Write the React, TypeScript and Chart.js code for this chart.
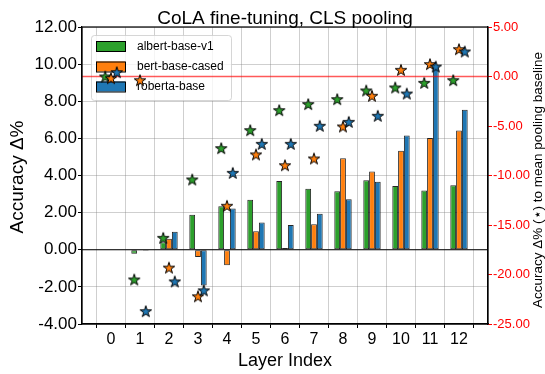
import React, { useEffect, useRef } from "react";
import { Chart, registerables } from "chart.js";
Chart.register(...registerables);

const LAYERS = [0, 1, 2, 3, 4, 5, 6, 7, 8, 9, 10, 11, 12];
const X_LABELS = ["0", "1", "2", "3", "4", "5", "6", "7", "8", "9", "10", "11", "12"];
const SERIES = ["albert-base-v1", "bert-base-cased", "roberta-base"];

// Bars: accuracy delta % (left axis)
const ALBERT_BARS = [0.0, -0.22, 0.4, 1.88, 2.35, 2.69, 3.71, 3.28, 3.15, 3.75, 3.44, 3.19, 3.48];
const BERT_BARS = [0.0, -0.02, 0.59, -0.39, -0.84, 1.0, 0.09, 1.38, 4.93, 4.21, 5.34, 6.02, 6.43];
const ROBERTA_BARS = [0.0, -0.05, 0.97, -1.92, 2.22, 1.47, 1.33, 1.94, 2.72, 3.66, 6.16, 9.85, 7.54];

// Stars: accuracy delta % to mean pooling baseline (right axis)
const ALBERT_STARS = [0.0, -20.5, -16.3, -10.4, -7.24, -5.42, -3.4, -2.79, -2.29, -1.41, -1.11, -0.64, -0.37];
const BERT_STARS = [-0.17, -0.37, -19.3, -22.2, -13.06, -7.87, -8.96, -8.28, -5.05, -1.95, 0.67, 1.25, 2.76];
const ROBERTA_STARS = [0.44, -23.7, -20.7, -21.6, -9.73, -6.8, -6.8, -4.98, -4.58, -3.97, -1.72, 1.01, 2.53];

const COLORS = ["#2ca02c", "#ff7f0e", "#1f77b4"];
const OFFSETS = [-0.2, 0, 0.2];
const FONT = '"Liberation Sans", Arial, sans-serif';

function makeStar(color: string) {
  const size = 16;
  const c = document.createElement("canvas");
  c.width = size;
  c.height = size;
  const g = c.getContext("2d")!;
  const R = 6.0;
  const r = R * 0.381966;
  g.beginPath();
  for (let k = 0; k < 10; k++) {
    const ang = -Math.PI / 2 + (k * Math.PI) / 5;
    const rad = k % 2 === 0 ? R : r;
    const px = size / 2 + rad * Math.cos(ang);
    const py = size / 2 + 0.6 + rad * Math.sin(ang);
    if (k === 0) g.moveTo(px, py);
    else g.lineTo(px, py);
  }
  g.closePath();
  g.fillStyle = color;
  g.fill();
  g.lineWidth = 1;
  g.strokeStyle = "#000";
  g.stroke();
  return c;
}

function drawLegend(ctx: CanvasRenderingContext2D) {
  ctx.save();
  const x = 91, y = 35, w = 140, h = 65;
  ctx.fillStyle = "rgba(255,255,255,0.8)";
  ctx.strokeStyle = "rgba(204,204,204,0.8)";
  ctx.lineWidth = 1;
  ctx.beginPath();
  ctx.roundRect(x + 0.5, y + 0.5, w, h, 3);
  ctx.fill();
  ctx.stroke();
  const rows = [46, 66.5, 86.5];
  ctx.font = `12px ${FONT}`;
  ctx.textBaseline = "middle";
  for (let i = 0; i < 3; i++) {
    ctx.fillStyle = COLORS[i];
    ctx.fillRect(96, rows[i] - 5, 29, 10);
    ctx.strokeStyle = "#000";
    ctx.lineWidth = 1;
    ctx.strokeRect(96.5, rows[i] - 4.5, 29, 10);
    ctx.fillStyle = "#000";
    ctx.fillText(SERIES[i], 137, rows[i] + 0.5);
  }
  ctx.restore();
}

const customPlugin = {
  id: "custom",
  beforeDatasetDraw(chart: any, args: any) {
    if (args.index === 3) drawLegend(chart.ctx);
  },
  afterDraw(chart: any) {
    const ctx = chart.ctx as CanvasRenderingContext2D;
    const a = chart.chartArea;
    ctx.save();
    ctx.strokeStyle = "#000";
    ctx.lineWidth = 1.2;
    ctx.strokeRect(a.left, a.top, a.right - a.left, a.bottom - a.top);
    ctx.fillStyle = "#000";
    const cx = (a.left + a.right) / 2;
    ctx.textAlign = "center";
    ctx.textBaseline = "alphabetic";
    ctx.font = `19px ${FONT}`;
    ctx.fillText("CoLA fine-tuning, CLS pooling", cx, 24);
    ctx.font = `18px ${FONT}`;
    ctx.fillText("Layer Index", cx, 366);
    ctx.textBaseline = "middle";
    ctx.save();
    ctx.translate(18, 177);
    ctx.rotate(-Math.PI / 2);
    ctx.font = `19px ${FONT}`;
    ctx.fillText("Accuracy Δ%", 0, 0);
    ctx.restore();
    ctx.save();
    ctx.translate(538, 180);
    ctx.rotate(-Math.PI / 2);
    ctx.font = `13.5px ${FONT}`;
    ctx.fillText("Accuracy Δ% (⋆) to mean pooling baseline", 0, 0);
    ctx.restore();
    ctx.restore();
  },
};

export default function App() {
  const ref = useRef<HTMLCanvasElement | null>(null);
  useEffect(() => {
    if (!ref.current) return;
    const bars = [ALBERT_BARS, BERT_BARS, ROBERTA_BARS];
    const stars = [ALBERT_STARS, BERT_STARS, ROBERTA_STARS];
    const datasets: any[] = [];
    bars.forEach((vals, i) => {
      datasets.push({
        type: "bar",
        label: SERIES[i],
        data: LAYERS.map((l, k) => ({ x: l, y: vals[k] })),
        backgroundColor: COLORS[i],
        borderColor: "rgba(0,0,0,0.85)",
        borderWidth: 1,
        borderSkipped: false,
        categoryPercentage: 0.6,
        barPercentage: 1.0,
        xAxisID: "x",
        yAxisID: "y",
        order: 10 + i,
      });
    });
    datasets.push({
      type: "line",
      label: "baseline",
      data: [{ x: -1, y: 0 }, { x: 13, y: 0 }],
      borderColor: "rgba(255,0,0,0.65)",
      borderWidth: 1.3,
      pointRadius: 0,
      xAxisID: "x",
      yAxisID: "y2",
      order: 5,
    });
    datasets.push({
      type: "line",
      label: "zero",
      data: [{ x: -1, y: 0 }, { x: 13, y: 0 }],
      borderColor: "#000",
      borderWidth: 1.1,
      pointRadius: 0,
      xAxisID: "x",
      yAxisID: "y",
      order: 9,
    });
    stars.forEach((vals, i) => {
      datasets.push({
        type: "scatter",
        label: SERIES[i] + " ⋆",
        data: LAYERS.map((l, k) => ({ x: l + OFFSETS[i], y: vals[k] })),
        pointStyle: makeStar(COLORS[i]),
        pointRadius: 6,
        xAxisID: "x",
        yAxisID: "y2",
        order: 3 - i,
      });
    });

    const chart = new Chart(ref.current, {
      type: "bar",
      data: { datasets },
      plugins: [customPlugin],
      options: {
        animation: false,
        responsive: false,
        events: [],
        layout: { padding: { top: 27, left: 0, right: 0, bottom: 0 } },
        plugins: { legend: { display: false }, title: { display: false }, tooltip: { enabled: false } },
        scales: {
          x: {
            type: "linear",
            min: -1,
            max: 13,
            offset: false,
            afterBuildTicks: (s: any) => {
              s.ticks = LAYERS.map((v) => ({ value: v }));
            },
            afterFit: (s: any) => {
              s.height = 50;
            },
            ticks: {
              stepSize: 1,
              autoSkip: false,
              maxRotation: 0,
              padding: 2,
              color: "#000",
              font: { family: FONT, size: 16 },
              callback: (v: any) => X_LABELS[LAYERS.indexOf(Number(v))] ?? "",
            },
            grid: { color: "rgba(128,128,128,0.38)", tickColor: "#000", tickLength: 4, lineWidth: 1 },
            border: { display: true, color: "#000", width: 1.2 },
          },
          y: {
            type: "linear",
            position: "left",
            min: -4,
            max: 12,
            afterFit: (s: any) => {
              s.width = 82;
            },
            ticks: {
              stepSize: 2,
              padding: 1,
              color: "#000",
              font: { family: FONT, size: 17 },
              callback: (v: any) => Number(v).toFixed(2),
            },
            grid: { color: "rgba(128,128,128,0.38)", tickColor: "#000", tickLength: 4, lineWidth: 1 },
            border: { display: true, color: "#000", width: 1.2 },
          },
          y2: {
            type: "linear",
            position: "right",
            min: -25,
            max: 5,
            afterFit: (s: any) => {
              s.width = 57;
            },
            ticks: {
              stepSize: 5,
              padding: 1,
              color: "#ff0000",
              font: { family: FONT, size: 13 },
              callback: (v: any) => Number(v).toFixed(2),
            },
            grid: { drawOnChartArea: false, tickColor: "#ff0000", tickLength: 4 },
            border: { display: true, color: "#000", width: 1.2 },
          },
        },
      },
    } as any);
    return () => chart.destroy();
  }, []);
  return (
    <div style={{ position: "fixed", left: 0, top: 0, width: 545, height: 374, background: "#fff" }}>
      <canvas ref={ref} width={545} height={374} />
    </div>
  );
}
